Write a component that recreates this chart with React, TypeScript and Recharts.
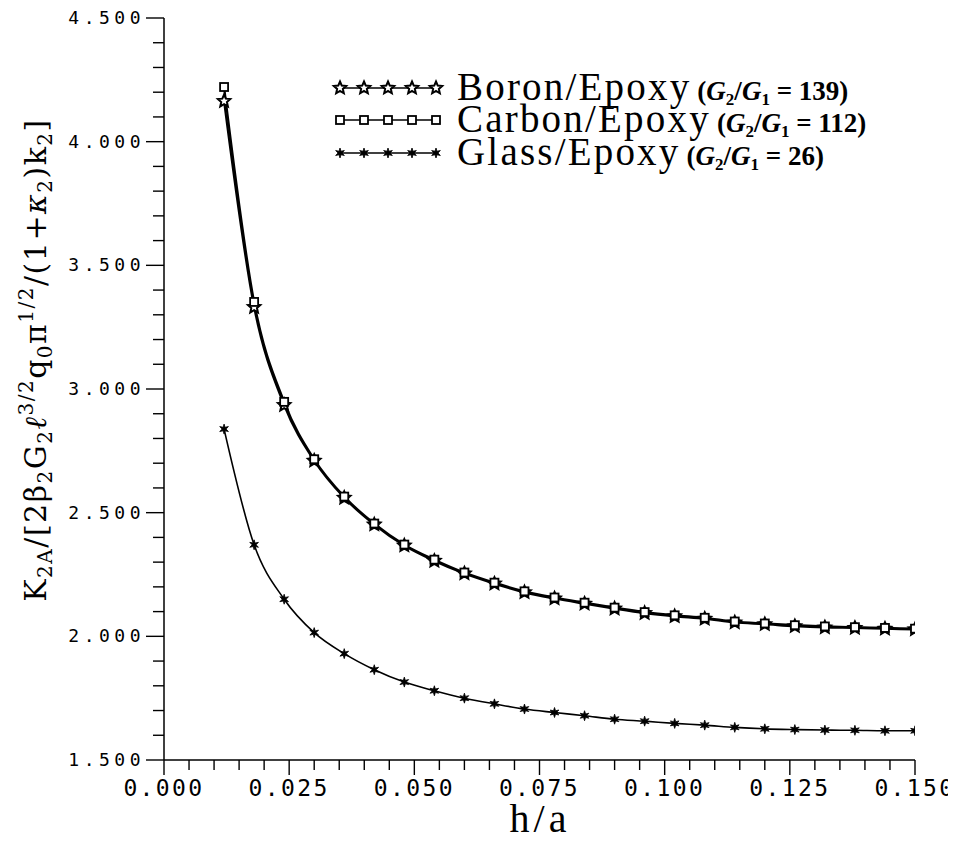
import React from 'react';
import { LineChart, Line, XAxis, YAxis, Legend } from 'recharts';

const hOverA = [0.012, 0.018, 0.024, 0.03, 0.036, 0.042, 0.048, 0.054, 0.06, 0.066, 0.072, 0.078, 0.084, 0.09, 0.096, 0.102, 0.108, 0.114, 0.12, 0.126, 0.132, 0.138, 0.144, 0.15];
const boron = [4.164, 3.331, 2.935, 2.71, 2.56, 2.452, 2.367, 2.305, 2.254, 2.213, 2.178, 2.153, 2.132, 2.112, 2.094, 2.081, 2.071, 2.056, 2.049, 2.041, 2.036, 2.034, 2.031, 2.028];
const carbon = [4.221, 3.352, 2.948, 2.716, 2.565, 2.456, 2.371, 2.31, 2.258, 2.217, 2.182, 2.157, 2.136, 2.116, 2.098, 2.085, 2.075, 2.06, 2.052, 2.045, 2.04, 2.037, 2.034, 2.031];
const glass = [2.838, 2.37, 2.15, 2.015, 1.93, 1.865, 1.815, 1.78, 1.75, 1.727, 1.706, 1.692, 1.679, 1.665, 1.657, 1.648, 1.641, 1.632, 1.626, 1.623, 1.621, 1.62, 1.618, 1.618];

const xTicks = [0, 0.005, 0.01, 0.015, 0.02, 0.025, 0.03, 0.035, 0.04, 0.045, 0.05, 0.055, 0.06, 0.065, 0.07, 0.075, 0.08, 0.085, 0.09, 0.095, 0.1, 0.105, 0.11, 0.115, 0.12, 0.125, 0.13, 0.135, 0.14, 0.145, 0.15];
const xMajorLabels = ['0.000', '0.025', '0.050', '0.075', '0.100', '0.125', '0.150'];
const yTicks = [1.5, 1.6, 1.7, 1.8, 1.9, 2.0, 2.1, 2.2, 2.3, 2.4, 2.5, 2.6, 2.7, 2.8, 2.9, 3.0, 3.1, 3.2, 3.3, 3.4, 3.5, 3.6, 3.7, 3.8, 3.9, 4.0, 4.1, 4.2, 4.3, 4.4, 4.5];
const yMajorLabels = ['1.500', '2.000', '2.500', '3.000', '3.500', '4.000', '4.500'];

const seriesNames = ['Boron/Epoxy', 'Carbon/Epoxy', 'Glass/Epoxy'];
const seriesRatios = ['139', '112', '26'];

const data = hOverA.map((h, i) => ({ h, boron: boron[i], carbon: carbon[i], glass: glass[i] }));

const starPoints = (cx: number, cy: number, R: number, r: number, n: number) => {
  const pts: string[] = [];
  for (let i = 0; i < n * 2; i++) {
    const ang = -Math.PI / 2 + (i * Math.PI) / n;
    const rad = i % 2 === 0 ? R : r;
    pts.push(`${(cx + rad * Math.cos(ang)).toFixed(2)},${(cy + rad * Math.sin(ang)).toFixed(2)}`);
  }
  return pts.join(' ');
};

const StarMark = ({ cx, cy }: { cx: number; cy: number }) => (
  <polygon points={starPoints(cx, cy, 6.5, 3, 5)} fill="#fff" stroke="#000" strokeWidth={2} strokeLinejoin="miter" />
);
const SquareMark = ({ cx, cy }: { cx: number; cy: number }) => (
  <rect x={cx - 4} y={cy - 4} width={8} height={8} fill="#fff" stroke="#000" strokeWidth={1.8} />
);
const AsteriskMark = ({ cx, cy }: { cx: number; cy: number }) => (
  <polygon points={starPoints(cx, cy, 5, 2, 6)} fill="#000" stroke="#000" strokeWidth={0.8} />
);

const markFor = [StarMark, SquareMark, AsteriskMark];

const isMajor = (v: number, step: number) => Math.abs(v / step - Math.round(v / step)) < 1e-6;

const XTick = (props: any) => {
  const { x, y, payload } = props;
  const v = payload.value;
  const major = isMajor(v, 0.025);
  const idx = Math.round(v / 0.025);
  return (
    <g>
      <line x1={x} x2={x} y1={y} y2={y + (major ? 15 : 10)} stroke="#000" strokeWidth={1.4} />
      {major && (
        <text x={x} y={y + 36} textAnchor="middle" fontFamily="DejaVu Sans Mono" fontSize={23} letterSpacing={2.4} fill="#000">
          {xMajorLabels[idx]}
        </text>
      )}
    </g>
  );
};

const YTick = (props: any) => {
  const { x, y, payload } = props;
  const v = payload.value;
  const major = isMajor(v, 0.5);
  const idx = Math.round((v - 1.5) / 0.5);
  return (
    <g>
      <line x1={x - (major ? 18 : 11)} x2={x} y1={y} y2={y} stroke="#000" strokeWidth={1.4} />
      {major && (
        <text x={x - 19} y={y} dy={6} textAnchor="end" fontFamily="DejaVu Sans Mono" fontSize={18} letterSpacing={4.5} fill="#000">
          {yMajorLabels[idx]}
        </text>
      )}
    </g>
  );
};

const renderDot = (Mark: any, prefix: string) => (p: any) => (
  <Mark key={`${prefix}-${p.index}`} cx={p.cx} cy={p.cy} />
);

const LegendContent = () => {
  const rows = [30, 62, 95];
  const b = { fontSize: 27, fontWeight: 'bold' as const, letterSpacing: 0 };
  const s = { fontSize: 17, fontWeight: 'bold' as const, letterSpacing: 0 };
  return (
    <svg width={620} height={130} style={{ overflow: 'visible', display: 'block' }}>
      {rows.map((ry, i) => {
        const Mark = markFor[i];
        const xs = [32, 56, 80, 104, 128];
        return (
          <g key={i}>
            <line x1={32} x2={128} y1={ry} y2={ry} stroke="#000" strokeWidth={1.6} />
            {xs.map((mx, j) => (
              <Mark key={j} cx={mx} cy={ry} />
            ))}
            <text x={149} y={ry + 12} fontFamily="Liberation Serif" fontSize={39} letterSpacing={2.2} fill="#000">
              {seriesNames[i]}
              <tspan dx={6} {...b}>(</tspan>
              <tspan {...b} fontStyle="italic">G</tspan>
              <tspan {...s} dy={5}>2</tspan>
              <tspan {...b} dy={-5}>/</tspan>
              <tspan {...b} fontStyle="italic">G</tspan>
              <tspan {...s} dy={5}>1</tspan>
              <tspan {...b} dy={-5}>{` = ${seriesRatios[i]})`}</tspan>
            </text>
          </g>
        );
      })}
    </svg>
  );
};

const YTitle = () => {
  const sub = { fontSize: 20 };
  const cx = 38;
  const cy = 352;
  return (
    <text
      x={cx}
      y={cy}
      transform={`rotate(-90, ${cx}, ${cy})`}
      textAnchor="middle"
      fontFamily="DejaVu Serif"
      fontSize={30}
      letterSpacing={1.5}
      fill="#000"
    >
      K<tspan {...sub} dy={6}>2A</tspan>
      <tspan dy={-6}>/[2β</tspan>
      <tspan {...sub} dy={6}>2</tspan>
      <tspan dy={-6}>G</tspan>
      <tspan {...sub} dy={6}>2</tspan>
      <tspan dy={-6} fontStyle="italic">ℓ</tspan>
      <tspan {...sub} dy={-13}>3/2</tspan>
      <tspan dy={13}>q</tspan>
      <tspan {...sub} dy={6}>0</tspan>
      <tspan dy={-6}>π</tspan>
      <tspan {...sub} dy={-13}>1/2</tspan>
      <tspan dy={13}>/(1+</tspan>
      <tspan fontStyle="italic">κ</tspan>
      <tspan {...sub} dy={6}>2</tspan>
      <tspan dy={-6}>)k</tspan>
      <tspan {...sub} dy={6}>2</tspan>
      <tspan dy={-6}>]</tspan>
    </text>
  );
};

export default function App() {
  return (
    <div style={{ width: 940, height: 827, overflow: 'visible', background: '#fff' }}>
      <LineChart width={948} height={835} data={data} margin={{ top: 10, right: 41, bottom: 0, left: 0 }}>
        <XAxis
          dataKey="h"
          type="number"
          domain={[0, 0.15]}
          ticks={xTicks}
          interval={0}
          height={83}
          tickSize={0}
          tickMargin={0}
          tickLine={false}
          axisLine={{ stroke: '#000', strokeWidth: 1.5 }}
          tick={<XTick />}
          allowDataOverflow
          label={{
            content: () => (
              <text x={532} y={824} textAnchor="middle" fontFamily="Liberation Serif" fontSize={40} letterSpacing={4} fill="#000">
                h/a
              </text>
            ),
          }}
        />
        <YAxis
          type="number"
          domain={[1.5, 4.5]}
          ticks={yTicks}
          interval={0}
          width={156}
          tickSize={0}
          tickMargin={0}
          tickLine={false}
          axisLine={{ stroke: '#000', strokeWidth: 1.5 }}
          tick={<YTick />}
          allowDataOverflow
          label={{ content: () => <YTitle /> }}
        />
        <Legend
          layout="horizontal"
          verticalAlign="middle"
          align="center"
          content={() => <LegendContent />}
          wrapperStyle={{ position: 'absolute', left: 300, top: 50, width: 620, height: 130 }}
        />
        <Line dataKey="glass" type="monotone" stroke="#000" strokeWidth={1.6} isAnimationActive={false} dot={renderDot(AsteriskMark, 'g')} activeDot={false} />
        <Line dataKey="boron" type="monotone" stroke="#000" strokeWidth={2.2} isAnimationActive={false} dot={renderDot(StarMark, 'b')} activeDot={false} />
        <Line dataKey="carbon" type="monotone" stroke="#000" strokeWidth={2.2} isAnimationActive={false} dot={renderDot(SquareMark, 'c')} activeDot={false} />
      </LineChart>
    </div>
  );
}
